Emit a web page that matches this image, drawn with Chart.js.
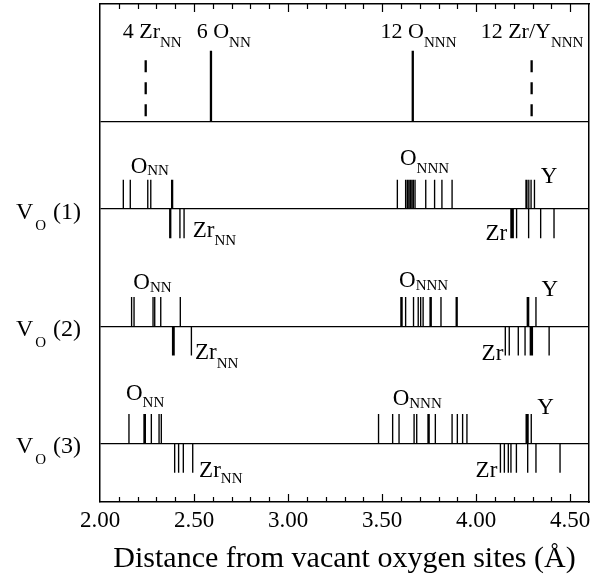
<!DOCTYPE html>
<html>
<head>
<meta charset="utf-8">
<script src="https://cdn.jsdelivr.net/npm/chart.js@4/dist/chart.umd.min.js"></script>
<style>
  html, body { margin: 0; padding: 0; background: #fff; }
  #wrap { width: 611px; height: 578px; }
</style>
</head>
<body>
<div id="wrap"><canvas id="c" width="611" height="578"></canvas></div>
<script>
// Ideal fluorite shells around an oxygen vacancy (Å)
const idealSolid  = [2.590, 3.663];   // 6 O_NN, 12 O_NNN
const idealDashed = [2.243, 4.295];   // 4 Zr_NN, 12 Zr/Y_NNN

// Relaxed neighbour distances (Å) for three vacancy sites
const vo1_ONN  = [2.124, 2.161, 2.254, 2.270, 2.381, 2.386];
const vo1_ZrNN = [2.371, 2.376, 2.425, 2.447];
const vo1_ONNN = [3.581, 3.625, 3.634, 3.642, 3.650, 3.658, 3.666, 3.675, 3.732, 3.779, 3.818, 3.872];
const vo1_Y    = [4.265, 4.270, 4.280, 4.292, 4.310];
const vo1_Zr   = [4.185, 4.191, 4.197, 4.215, 4.279, 4.343, 4.414];

const vo2_ONN  = [2.168, 2.181, 2.282, 2.291, 2.323, 2.427];
const vo2_ZrNN = [2.386, 2.390, 2.394, 2.486];
const vo2_ONNN = [3.600, 3.606, 3.625, 3.667, 3.692, 3.705, 3.718, 3.755, 3.761, 3.813, 3.894, 3.899];
const vo2_Y    = [4.272, 4.279, 4.318];
const vo2_Zr   = [4.155, 4.176, 4.224, 4.260, 4.288, 4.294, 4.299, 4.388];

const vo3_ONN  = [2.154, 2.234, 2.241, 2.273, 2.314, 2.326];
const vo3_ZrNN = [2.397, 2.418, 2.443, 2.493];
const vo3_ONNN = [3.481, 3.556, 3.590, 3.670, 3.684, 3.744, 3.750, 3.783, 3.872, 3.900, 3.928, 3.951];
const vo3_Y    = [4.266, 4.271, 4.276, 4.293];
const vo3_Zr   = [4.129, 4.150, 4.171, 4.185, 4.214, 4.274, 4.318, 4.446];

const xTickValues = [2.00, 2.50, 3.00, 3.50, 4.00, 4.50];
const siteNames = ['(1)', '(2)', '(3)'];

// Vertical layout (y units): baselines of each strip
const IDEAL = 11, SITE = [8, 4, 0];
const STICK = 1;
const SERIF = '"Liberation Serif", "Times New Roman", serif';

function sticks(values, from, to) {
  const pts = [];
  values.forEach(v => { pts.push({x: v, y: from}, {x: v, y: to}, {x: v, y: null}); });
  return pts;
}
function seg(data, width, dash) {
  return {
    data, showLine: true, borderColor: '#000', borderWidth: width,
    borderDash: dash || [], borderCapStyle: 'butt', pointRadius: 0,
    pointHoverRadius: 0, spanGaps: false, fill: false, tension: 0
  };
}

const siteSets = [
  {up: [vo1_ONN, vo1_ONNN, vo1_Y], down: [vo1_ZrNN, vo1_Zr]},
  {up: [vo2_ONN, vo2_ONNN, vo2_Y], down: [vo2_ZrNN, vo2_Zr]},
  {up: [vo3_ONN, vo3_ONNN, vo3_Y], down: [vo3_ZrNN, vo3_Zr]}
];

const datasets = [
  seg(sticks(idealSolid, IDEAL, IDEAL + 2.4), 2.3),
  seg(sticks(idealDashed, IDEAL + 2.08, IDEAL), 2.3, [12, 10])
];
siteSets.forEach((s, i) => {
  const base = SITE[i];
  s.up.forEach(arr => datasets.push(seg(sticks(arr, base, base + STICK), 1.35)));
  s.down.forEach(arr => datasets.push(seg(sticks(arr, base, base - STICK), 1.35)));
});

// Shell labels: anchor in data units, text with subscript
const shellLabels = [
  {x: 2.121, y: 13.83, main: '4 Zr', sub: 'NN', size: 22, dy: 8.4},
  {x: 2.514, y: 13.83, main: '6 O', sub: 'NN', size: 22, dy: 8.4},
  {x: 3.492, y: 13.83, main: '12 O', sub: 'NNN', size: 22, dy: 8.4},
  {x: 4.024, y: 13.83, main: '12 Zr/Y', sub: 'NNN', size: 22, dy: 8.4},

  {x: 2.163, y: 9.24, main: 'O', sub: 'NN', size: 23, dy: 2},
  {x: 2.493, y: 7.06, main: 'Zr', sub: 'NN', size: 23, dy: 8},
  {x: 3.595, y: 9.50, main: 'O', sub: 'NNN', size: 23, dy: 8},
  {x: 4.343, y: 8.90, main: 'Y', sub: '', size: 23, dy: 0},
  {x: 4.050, y: 6.94, main: 'Zr', sub: '', size: 23, dy: 0},

  {x: 2.177, y: 5.26, main: 'O', sub: 'NN', size: 23, dy: 3},
  {x: 2.505, y: 2.87, main: 'Zr', sub: 'NN', size: 23, dy: 9},
  {x: 3.590, y: 5.35, main: 'O', sub: 'NNN', size: 23, dy: 3},
  {x: 4.348, y: 5.03, main: 'Y', sub: '', size: 23, dy: 0},
  {x: 4.029, y: 2.85, main: 'Zr', sub: '', size: 23, dy: 0},

  {x: 2.138, y: 1.48, main: 'O', sub: 'NN', size: 23, dy: 6.5},
  {x: 2.527, y: -1.16, main: 'Zr', sub: 'NN', size: 23, dy: 6},
  {x: 3.556, y: 1.31, main: 'O', sub: 'NNN', size: 23, dy: 3},
  {x: 4.325, y: 1.00, main: 'Y', sub: '', size: 23, dy: 0},
  {x: 3.997, y: -1.16, main: 'Zr', sub: '', size: 23, dy: 0}
];

function drawSub(ctx, px, py, main, sub, size, subSize, dy) {
  ctx.font = size + 'px ' + SERIF;
  ctx.fillText(main, px, py);
  if (!sub) return;
  const w = ctx.measureText(main).width;
  ctx.font = subSize + 'px ' + SERIF;
  ctx.fillText(sub, px + w, py + dy);
}

const decorations = {
  id: 'decorations',
  afterDraw(chart) {
    const {ctx, chartArea: a, scales: {x, y}} = chart;
    ctx.save();
    // inward tick marks on the top and bottom frame
    ctx.strokeStyle = '#000';
    ctx.lineWidth = 1.2;
    ctx.beginPath();
    for (let i = 21; i < 46; i++) {
      const px = Math.round(x.getPixelForValue(i / 10)) + 0.5;
      const len = i % 5 === 0 ? 8 : 5;
      ctx.moveTo(px, a.bottom); ctx.lineTo(px, a.bottom - len);
      ctx.moveTo(px, a.top); ctx.lineTo(px, a.top + len);
    }
    ctx.stroke();

    ctx.fillStyle = '#000';
    ctx.textBaseline = 'alphabetic';
    ctx.textAlign = 'left';
    shellLabels.forEach(l => {
      drawSub(ctx, x.getPixelForValue(l.x), y.getPixelForValue(l.y), l.main, l.sub, l.size, 15, l.dy);
    });

    // vacancy site names at the left of each strip
    SITE.forEach((base, i) => {
      const py = y.getPixelForValue(base) + 10;
      const left = a.left - 84;
      ctx.font = '24px ' + SERIF;
      ctx.fillText('V', left, py);
      const w = ctx.measureText('V').width;
      ctx.font = '15px ' + SERIF;
      ctx.fillText('O', left + w + 2, py + 11);
      ctx.font = '24px ' + SERIF;
      ctx.fillText(siteNames[i], a.left - 47, py);
    });
    ctx.restore();
  }
};

new Chart(document.getElementById('c'), {
  type: 'scatter',
  data: {datasets},
  plugins: [decorations],
  options: {
    responsive: false,
    animation: false,
    devicePixelRatio: 1,
    events: [],
    layout: {padding: {left: 100, right: 22, top: 4, bottom: 0}},
    plugins: {legend: {display: false}, tooltip: {enabled: false}},
    scales: {
      x: {
        type: 'linear', position: 'bottom', min: 2.0, max: 4.6,
        grid: {display: false, drawTicks: false},
        border: {display: true, color: '#000', width: 1.5},
        afterBuildTicks: s => { s.ticks = xTickValues.map(v => ({value: v})); },
        afterFit: s => { s.height = 76; },
        ticks: {
          color: '#000', padding: 5, maxRotation: 0, autoSkip: false,
          font: {family: SERIF, size: 23},
          callback: v => Number(v).toFixed(2)
        },
        title: {
          display: true, text: 'Distance from vacant oxygen sites (Å)',
          color: '#000', font: {family: SERIF, size: 30},
          padding: {top: 0, bottom: 1}
        }
      },
      xTop: {
        type: 'linear', position: 'top', min: 2.0, max: 4.6,
        grid: {display: false, drawTicks: false},
        border: {display: true, color: '#000', width: 1.5},
        ticks: {display: false}
      },
      y: {
        type: 'linear', position: 'left', min: -2, max: 15,
        afterBuildTicks: s => { s.ticks = [SITE[2], SITE[1], SITE[0], IDEAL].map(v => ({value: v})); },
        grid: {display: true, drawTicks: false, color: '#000', lineWidth: 1.2},
        border: {display: true, color: '#000', width: 1.5},
        ticks: {display: false}
      },
      yRight: {
        type: 'linear', position: 'right', min: -2, max: 15,
        grid: {display: false, drawTicks: false},
        border: {display: true, color: '#000', width: 1.5},
        ticks: {display: false}
      }
    }
  }
});
</script>
</body>
</html>
